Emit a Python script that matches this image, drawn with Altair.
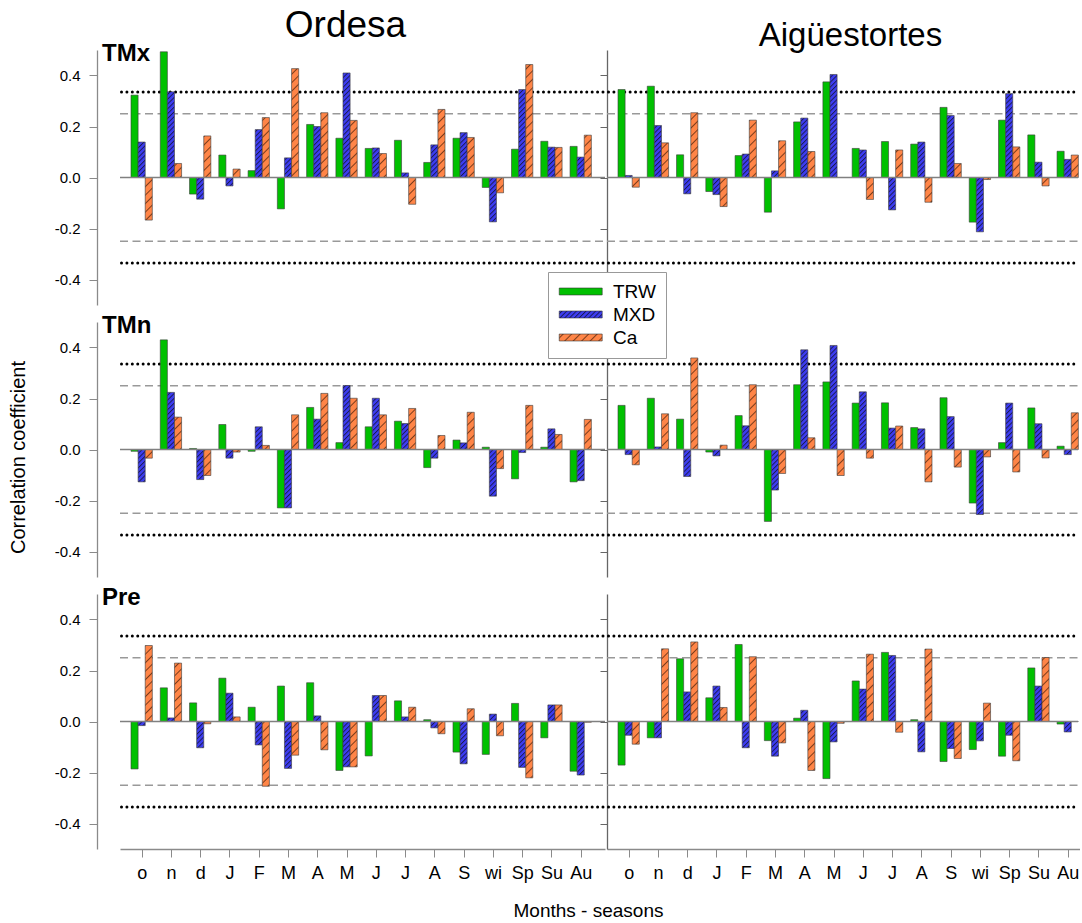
import json

import altair as alt
import jinja2
import pandas as pd

# ---------------------------------------------------------------------------
# Data: correlation coefficients of tree-ring proxies with monthly/seasonal
# climate (previous Oct-Dec, current Jan-Sep, then seasons).
# ---------------------------------------------------------------------------
CATEGORIES = ["o", "n", "d", "J", "F", "M", "A", "M", "J", "J", "A", "S",
              "wi", "Sp", "Su", "Au"]
SERIES = ["TRW", "MXD", "Ca"]
VARIABLES = ["TMx", "TMn", "Pre"]
SITES = ["Ordesa", "Aigüestortes"]

SIGNIF_95 = 0.25
SIGNIF_99 = 0.335

# Maximum temperature
ordesa_tmx_trw = [0.323, 0.493, -0.065, 0.088, 0.027, -0.123, 0.208, 0.154,
                  0.114, 0.146, 0.059, 0.154, -0.039, 0.111, 0.142, 0.122]
ordesa_tmx_mxd = [0.139, 0.336, -0.085, -0.033, 0.188, 0.077, 0.200, 0.410,
                  0.116, 0.018, 0.128, 0.176, -0.174, 0.345, 0.119, 0.080]
ordesa_tmx_ca = [-0.167, 0.055, 0.163, 0.033, 0.235, 0.427, 0.254, 0.224,
                 0.094, -0.105, 0.267, 0.157, -0.060, 0.443, 0.118, 0.166]
aigues_tmx_trw = [0.345, 0.358, 0.089, -0.055, 0.086, -0.136, 0.218, 0.375,
                  0.114, 0.141, 0.131, 0.275, -0.175, 0.225, 0.167, 0.103]
aigues_tmx_mxd = [0.008, 0.204, -0.064, -0.067, 0.092, 0.026, 0.233, 0.404,
                  0.108, -0.127, 0.139, 0.243, -0.213, 0.329, 0.060, 0.071]
aigues_tmx_ca = [-0.038, 0.136, 0.254, -0.114, 0.225, 0.144, 0.102, 0.0,
                 -0.086, 0.108, -0.097, 0.055, -0.008, 0.120, -0.033, 0.088]

# Minimum temperature
ordesa_tmn_trw = [-0.007, 0.430, 0.004, 0.098, -0.007, -0.229, 0.165, 0.027,
                  0.089, 0.111, -0.071, 0.037, 0.009, -0.115, 0.009, -0.127]
ordesa_tmn_mxd = [-0.127, 0.224, -0.118, -0.034, 0.089, -0.229, 0.119, 0.251,
                  0.201, 0.102, -0.034, 0.026, -0.183, -0.012, 0.081, -0.122]
ordesa_tmn_ca = [-0.034, 0.127, -0.102, -0.010, 0.016, 0.136, 0.220, 0.201,
                 0.136, 0.161, 0.055, 0.146, -0.075, 0.173, 0.059, 0.118]
aigues_tmn_trw = [0.173, 0.201, 0.119, -0.010, 0.133, -0.282, 0.254, 0.265,
                  0.182, 0.183, 0.086, 0.203, -0.210, 0.027, 0.163, 0.013]
aigues_tmn_mxd = [-0.020, 0.010, -0.106, -0.025, 0.093, -0.159, 0.391, 0.408,
                  0.226, 0.084, 0.081, 0.129, -0.255, 0.182, 0.101, -0.020]
aigues_tmn_ca = [-0.060, 0.140, 0.359, 0.017, 0.254, -0.094, 0.046, -0.102,
                 -0.034, 0.092, -0.127, -0.069, -0.029, -0.088, -0.033, 0.144]

# Precipitation
ordesa_pre_trw = [-0.186, 0.132, 0.073, 0.170, 0.056, 0.139, 0.152, -0.192,
                  -0.135, 0.081, 0.007, -0.120, -0.129, 0.071, -0.064, -0.195]
ordesa_pre_mxd = [-0.016, 0.014, -0.103, 0.111, -0.092, -0.184, 0.022, -0.178,
                  0.102, 0.018, -0.025, -0.166, 0.029, -0.180, 0.065, -0.210]
ordesa_pre_ca = [0.298, 0.229, -0.009, 0.018, -0.254, -0.132, -0.111, -0.178,
                 0.102, 0.056, -0.048, 0.050, -0.056, -0.221, 0.065, -0.003]
aigues_pre_trw = [-0.171, -0.064, 0.246, 0.093, 0.302, -0.075, 0.013, -0.224,
                  0.159, 0.271, 0.007, -0.157, -0.110, -0.136, 0.210, -0.010]
aigues_pre_mxd = [-0.054, -0.064, 0.116, 0.139, -0.103, -0.136, 0.044, -0.080,
                  0.127, 0.259, -0.119, -0.106, -0.076, -0.054, 0.139, -0.041]
aigues_pre_ca = [-0.089, 0.285, 0.312, 0.055, 0.254, -0.084, -0.192, -0.007,
                 0.264, -0.042, 0.284, -0.145, 0.072, -0.154, 0.251, 0.0]

TABLE = {
    ("TMx", "Ordesa"): [ordesa_tmx_trw, ordesa_tmx_mxd, ordesa_tmx_ca],
    ("TMx", "Aigüestortes"): [aigues_tmx_trw, aigues_tmx_mxd, aigues_tmx_ca],
    ("TMn", "Ordesa"): [ordesa_tmn_trw, ordesa_tmn_mxd, ordesa_tmn_ca],
    ("TMn", "Aigüestortes"): [aigues_tmn_trw, aigues_tmn_mxd, aigues_tmn_ca],
    ("Pre", "Ordesa"): [ordesa_pre_trw, ordesa_pre_mxd, ordesa_pre_ca],
    ("Pre", "Aigüestortes"): [aigues_pre_trw, aigues_pre_mxd, aigues_pre_ca],
}

records = []
for (var, site), columns in TABLE.items():
    for series, vals in zip(SERIES, columns):
        for i, v in enumerate(vals):
            records.append({"variable": var, "site": site, "series": series,
                            "idx": i, "r": v})
df = pd.DataFrame(records)

# ---------------------------------------------------------------------------
# Layout / style
# ---------------------------------------------------------------------------
FONT = "Liberation Sans"
STEP = 29.27          # pixels per month slot
LEAD = 0.74           # empty slots before the first month
BAR = 0.2427          # width of one bar, in slot units
PANEL_H = 255
WIDTHS = [485, 473]
GREY = "#8a8a8a"
SITE_TITLE = {"Ordesa": (37, -17), "Aigüestortes": (33, 7)}  # font size, dx

COLOR_RANGE = ["#00c000",
               "url(#hatch-mxd) #3d3df2",
               "url(#hatch-ca) #ff8547"]
color_scale = alt.Scale(domain=SERIES, range=COLOR_RANGE)
# Long flat key swatch, shifted right of its nominal (small) symbol box so
# the legend rows stay compact.
legend = alt.Legend(
    orient="none", legendX=428, legendY=222, title=None,
    direction="vertical",
    symbolType="M-1,-0.42H4.2V0.42H-1Z", symbolSize=273,
    symbolStrokeColor="#333333", symbolStrokeWidth=0.6, symbolOpacity=1,
    labelFont=FONT, labelFontSize=19, labelColor="black", labelOffset=36,
    fillColor="white", strokeColor="#999999", padding=10, rowPadding=3,
)
y_scale = alt.Scale(domain=[-0.5, 0.5], nice=False, zero=False)
Y_TICKS = [-0.4, -0.2, 0.0, 0.2, 0.4]
label_map = json.dumps(CATEGORIES)


def y_axis_for(row, col):
    if col == 0:
        return alt.Axis(
            values=Y_TICKS,
            labelExpr="replace(format(datum.value, '.1f'), '\u2212', '-')",
            labelFont=FONT, labelFontSize=15, labelColor="black",
            labelPadding=9, labelFlush=False,
            offset=23, tickSize=8, tickColor=GREY, domainColor=GREY,
            domainWidth=1.3, grid=False,
            title="Correlation coefficient" if row == 1 else None,
            titleFont=FONT, titleFontSize=20, titleFontWeight="normal",
            titleColor="black", titleX=-79, titleY=135, titleAngle=270,
            titleAlign="center", titleBaseline="middle",
        )
    return alt.Axis(values=Y_TICKS, labels=False, tickSize=7,
                    tickColor="#666666", domainColor="#666666",
                    domainWidth=1.3, grid=False, title=None)


def panel(row, col):
    var, site = VARIABLES[row], SITES[col]
    width = WIDTHS[col]
    x_scale = alt.Scale(domain=[-LEAD, -LEAD + width / STEP], nice=False,
                        zero=False)

    if row == len(VARIABLES) - 1:
        x_axis = alt.Axis(
            values=list(range(len(CATEGORIES))),
            labelExpr=f"{label_map}[datum.value]",
            labelFont=FONT, labelFontSize=18, labelColor="black",
            labelPadding=7, labelFlush=False, labelOverlap=False,
            tickSize=8, tickColor=GREY, domainColor=GREY, domainWidth=1.3,
            grid=False,
            title="Months - seasons" if col == 0 else None,
            titleFont=FONT, titleFontSize=19, titleFontWeight="normal",
            titleColor="black", titleX=468, titleY=67, titleAlign="center",
            titleBaseline="alphabetic",
        )
    else:
        x_axis = None

    y_enc = alt.Y("r:Q", scale=y_scale, axis=y_axis_for(row, col))

    sub = df[(df.variable == var) & (df.site == site)]
    bars = (
        alt.Chart(sub)
        .transform_calculate(slot=f"indexof({json.dumps(SERIES)}, datum.series)")
        .transform_calculate(
            x0=f"datum.idx + (datum.slot - 1.5) * {BAR}",
            x1=f"datum.idx + (datum.slot - 0.5) * {BAR}",
        )
        .mark_bar(stroke="#3a3a3a", strokeWidth=0.6)
        .encode(
            x=alt.X("x0:Q", scale=x_scale, axis=x_axis),
            x2="x1:Q",
            y=y_enc,
            y2=alt.datum(0),
            color=alt.Color("series:N", scale=color_scale, legend=legend),
        )
    )

    right_end = width if col == 0 else width - 2
    dotted = alt.Chart(pd.DataFrame({"r": [SIGNIF_99, -SIGNIF_99]})).mark_rule(
        color="black", strokeWidth=3, strokeDash=[0.01, 5.4], strokeCap="round"
    ).encode(y=y_enc, x=alt.value(1.5), x2=alt.value(right_end))
    dashed = alt.Chart(pd.DataFrame({"r": [SIGNIF_95, -SIGNIF_95]})).mark_rule(
        color="#999999", strokeWidth=1.4, strokeDash=[8, 4.5]
    ).encode(y=y_enc, x=alt.value(0), x2=alt.value(right_end))
    zero = alt.Chart(pd.DataFrame({"r": [0.0]})).mark_rule(
        color="#808080", strokeWidth=1.4
    ).encode(y=y_enc, x=alt.value(0), x2=alt.value(right_end))

    layers = [dashed, dotted, bars, zero]
    if col == 0:
        label = alt.Chart(pd.DataFrame({"label": [var]})).mark_text(
            align="left", baseline="alphabetic", font=FONT, fontSize=24,
            fontWeight="bold", color="black"
        ).encode(text="label:N", x=alt.value(-18), y=alt.value(11))
        layers.append(label)

    chart = alt.layer(*layers).properties(width=width, height=PANEL_H)
    if row == 0:
        size, dx = SITE_TITLE[site]
        chart = chart.properties(title=alt.TitleParams(
            text=site, font=FONT, fontSize=size, fontWeight="normal",
            color="black", anchor="middle", offset=-2.5, dx=dx,
        ))
    return chart


panels = [panel(r, c) for r in range(len(VARIABLES)) for c in range(len(SITES))]

chart = (
    alt.concat(*panels, columns=2, spacing={"row": 17, "column": 2},
               bounds="flush", align="each")
    .properties(padding={"left": 8, "top": 6, "right": 0, "bottom": 0})
    .configure_view(strokeOpacity=0)
)

PAGE = jinja2.Template("""<!DOCTYPE html>
<html>
<head>
  <meta charset="utf-8">
  <style>
    body { margin: 0; overflow: hidden; }
    #{{ output_div }}.vega-embed { width: 100%; display: flex; }
  </style>
  <script type="text/javascript" src="{{ base_url }}/vega@{{ vega_version }}"></script>
  <script type="text/javascript" src="{{ base_url }}/vega-lite@{{ vegalite_version }}"></script>
  <script type="text/javascript" src="{{ base_url }}/vega-embed@{{ vegaembed_version }}"></script>
</head>
<body>
  <svg width="0" height="0" style="position:absolute;left:0;top:0" aria-hidden="true">
    <defs>
      <pattern id="hatch-mxd" patternUnits="userSpaceOnUse" width="3.4" height="3.4"
               patternTransform="rotate(45)">
        <rect x="0" y="0" width="3.4" height="3.4" fill="#3d3df2"/>
        <line x1="0.5" y1="0" x2="0.5" y2="3.4" stroke="#16164a" stroke-width="0.9"/>
      </pattern>
      <pattern id="hatch-ca" patternUnits="userSpaceOnUse" width="6" height="6"
               patternTransform="rotate(45)">
        <rect x="0" y="0" width="6" height="6" fill="#ff8547"/>
        <line x1="0.5" y1="0" x2="0.5" y2="6" stroke="#5a2a10" stroke-width="0.8"/>
      </pattern>
    </defs>
  </svg>
  <div id="{{ output_div }}"></div>
  <script>
    (function(vegaEmbed) {
      var spec = {{ spec }};
      var embedOpt = {{ embed_options }};
      var el = document.getElementById('{{ output_div }}');
      vegaEmbed("#{{ output_div }}", spec, embedOpt).catch(function (error) {
        el.innerHTML = '<pre style="color:red">' + error.message + '</pre>';
        throw error;
      });
    })(vegaEmbed);
  </script>
</body>
</html>
""")

chart.save("out.html", embed_options={"renderer": "svg", "actions": False},
           template=PAGE)
